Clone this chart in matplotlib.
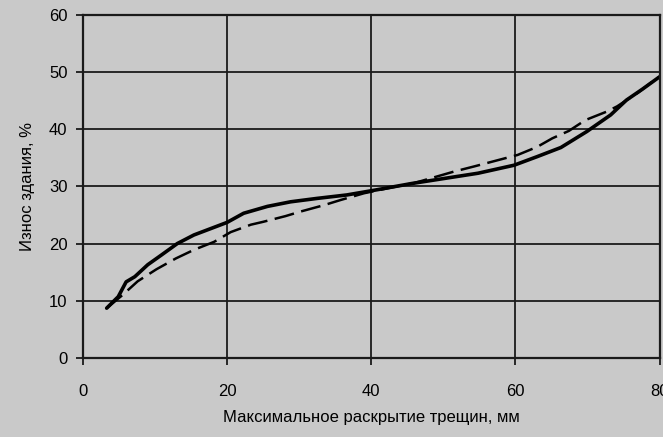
import numpy as np
import matplotlib.pyplot as plt

# кривые износа здания от раскрытия трещин
x_solid = [3.3, 4.9, 6.0, 7.2, 9.0, 10.9, 13.1, 15.4, 17.7, 20.0, 22.3, 25.6, 28.8, 32.5, 36.6, 40.3,
           45.6, 50.2, 54.8, 59.8, 63.0, 66.3, 69.9, 73.2, 75.4, 77.6, 79.8]
y_solid = [8.7, 10.7, 13.3, 14.2, 16.3, 18.0, 20.0, 21.5, 22.6, 23.7, 25.3, 26.5, 27.3, 27.9, 28.5, 29.3,
           30.5, 31.4, 32.3, 33.7, 35.2, 36.8, 39.6, 42.5, 45.1, 47.0, 49.0]

x_dash = [3.3, 5.5, 7.6, 10.2, 12.9, 15.4, 18.2, 20.5, 23.3, 25.0, 28.1, 30.2, 33.4, 35.7, 39.0, 42.0,
          46.0, 51.5, 54.3, 57.0, 60.3, 63.0, 65.1, 67.4, 69.7, 72.7, 74.1, 77.0, 80.0]
y_dash = [8.7, 11.0, 13.4, 15.5, 17.4, 18.9, 20.3, 22.0, 23.3, 23.8, 24.8, 25.6, 26.7, 27.6, 28.8, 29.6,
          30.6, 32.6, 33.5, 34.4, 35.5, 36.9, 38.4, 39.7, 41.6, 43.1, 44.0, 46.4, 49.3]

x_ticks = [0, 20, 40, 60, 80]
y_ticks = [0, 10, 20, 30, 40, 50, 60]

bg = '#c9c9c9'
plt.rcParams['font.family'] = ['Liberation Sans', 'DejaVu Sans']

fig = plt.figure(figsize=(6.63, 4.37), dpi=100, facecolor=bg)
ax = fig.add_axes([0.125, 0.181, 0.87, 0.785], facecolor=bg)

ax.plot(x_solid, y_solid, color='black', lw=2.6, solid_capstyle='round', solid_joinstyle='round')
ax.plot(x_dash, y_dash, color='black', lw=1.8, dashes=(8, 3))

ax.set_xlim(0, 80)
ax.set_ylim(0, 60)
ax.set_xticks(x_ticks)
ax.set_yticks(y_ticks)
ax.grid(True, color='#1a1a1a', lw=1.3)
ax.set_axisbelow(True)
for s in ax.spines.values():
    s.set_color('#1a1a1a')
    s.set_linewidth(1.6)
ax.tick_params(length=5, width=1.3, color='#1a1a1a', labelsize=12, pad=6)
ax.tick_params(axis='x', pad=14)

ax.set_xlabel('Максимальное раскрытие трещин, мм', fontsize=12, labelpad=8)
ax.set_ylabel('Износ здания, %', fontsize=12, labelpad=10)

fig.savefig('out.png', dpi=100, facecolor=bg)
